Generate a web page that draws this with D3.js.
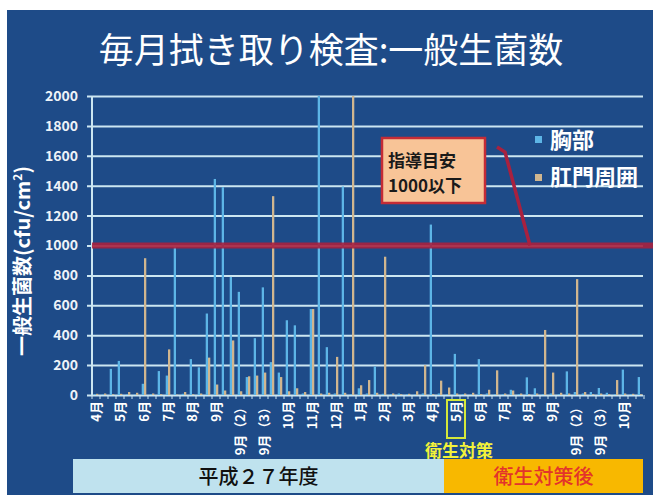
<!DOCTYPE html>
<html>
<head>
<meta charset="utf-8">
<script src="https://cdn.jsdelivr.net/npm/d3@7"></script>
<style>
  html, body { margin: 0; padding: 0; background: #ffffff; }
  svg { display: block; }
  text { font-family: "Noto Sans CJK JP", "Noto Sans", sans-serif; }
</style>
</head>
<body>
<svg id="chart" width="653" height="495"></svg>
<script>
// Monthly swab test: general bacteria count (cfu/cm²), three samples per session
const sessions = ["4月", "5月", "6月", "7月", "8月", "9月", "9月（2）", "9月（3）", "10月", "11月", "12月",
                  "1月", "2月", "3月", "4月", "5月", "6月", "7月", "8月", "9月", "9月（2）", "9月（3）", "10月"];
const samplesPerSession = 3;
const seriesNames = ["胸部", "肛門周囲"];

// 胸部 (chest)
const chest = [5, 3, 175, 228, 5, 3, 75, 5, 160, 130, 990, 8,
               240, 185, 545, 1445, 1390, 790, 690, 120, 380, 720, 220, 150,
               500, 466, 10, 575, 2000, 320, 10, 1395, 5, 45, 10, 190,
               8, 5, 10, 5, 3, 10, 1140, 10, 5, 275, 5, 3,
               240, 10, 5, 5, 35, 5, 118, 45, 5, 10, 5, 158,
               20, 10, 20, 47, 15, 5, 170, 5, 120];
// 肛門周囲 (perianal)
const anal = [8, 10, 5, 8, 20, 15, 915, 10, 5, 305, 3, 20,
              5, 10, 250, 70, 30, 365, 25, 125, 130, 150, 1330, 120,
              25, 45, 20, 575, 10, 15, 255, 15, 2000, 65, 100, 15,
              925, 10, 5, 8, 25, 200, 5, 96, 50, 10, 10, 15,
              5, 35, 165, 10, 30, 10, 5, 10, 435, 150, 15, 10,
              775, 20, 5, 10, 5, 100, 10, 8, 5];

const yTicks = [0, 200, 400, 600, 800, 1000, 1200, 1400, 1600, 1800, 2000];
const yMax = 2000;
const guideValue = 1000;
const guideText = ["指導目安", "1000以下"];
const periods = [
  { label: "平成２７年度", from: 0, to: 44 },
  { label: "衛生対策後", from: 44, to: 69 }
];
const measureSession = 15;          // session where hygiene measures began
const measureText = "衛生対策";

// ---------- layout ----------
const W = 653, H = 495;
const plot = { left: 92, right: 644, top: 96, bottom: 395 };
const colors = { bg: "#1e4b88", grid: "#cce6f1", chest: "#5db5e6", anal: "#d0b68f", guide: "#a8213f" };

const svg = d3.select("#chart");

svg.append("rect").attr("x", 7).attr("y", 10).attr("width", W - 7).attr("height", H - 10)
  .attr("fill", colors.bg);

// title
svg.append("text").attr("x", 331).attr("y", 63).attr("text-anchor", "middle")
  .attr("fill", "#ffffff").attr("font-size", 35).attr("font-weight", 400)
  .text("毎月拭き取り検査:一般生菌数");

// scales
const cats = d3.range(chest.length);
const x = d3.scaleBand().domain(cats).range([plot.left, plot.right]).paddingInner(0).paddingOuter(0);
const xs = d3.scaleBand().domain(seriesNames).range([0, x.bandwidth()]).paddingInner(0).paddingOuter(0.75);
const y = d3.scaleLinear().domain([0, yMax]).range([plot.bottom, plot.top]);

// gridlines + y tick labels
const yAxis = d3.axisLeft(y).tickValues(yTicks).tickFormat(d3.format("d"))
  .tickSize(-(plot.right - 1 - 87)).tickPadding(9);
const gy = svg.append("g").attr("transform", "translate(87,0)").call(yAxis);
gy.select(".domain").remove();
gy.selectAll(".tick line").attr("stroke", colors.grid).attr("stroke-width", 2);
gy.selectAll(".tick text").attr("fill", "#eef3f8").attr("font-size", 14).attr("font-weight", 700)
  .attr("font-family", "'Liberation Sans', Arial, sans-serif");

// y axis line
svg.append("line").attr("x1", plot.left).attr("x2", plot.left)
  .attr("y1", y(yMax)).attr("y2", y(0)).attr("stroke", colors.grid).attr("stroke-width", 2);

// category tick marks
svg.append("g").selectAll("line").data(d3.range(chest.length + 1)).join("line")
  .attr("x1", i => plot.left + i * x.step()).attr("x2", i => plot.left + i * x.step())
  .attr("y1", y(0)).attr("y2", y(0) + 4)
  .attr("stroke", colors.grid).attr("stroke-width", 1);

// bars
const barG = svg.append("g");
[chest, anal].forEach((series, s) => {
  barG.append("g").selectAll("rect").data(cats).join("rect")
    .attr("x", i => x(i) + xs(seriesNames[s]))
    .attr("y", i => y(series[i]))
    .attr("width", xs.bandwidth())
    .attr("height", i => y(0) - y(series[i]))
    .attr("fill", s === 0 ? colors.chest : colors.anal);
});

// guide line at 1000
svg.append("line").attr("x1", plot.left).attr("x2", W)
  .attr("y1", y(guideValue)).attr("y2", y(guideValue))
  .attr("stroke", colors.guide).attr("stroke-width", 6).attr("opacity", 0.9);

// callout
svg.append("path")
  .attr("d", d3.line()([[497, 147], [505, 152], [530, y(guideValue)]]))
  .attr("fill", "none").attr("stroke", colors.guide).attr("stroke-width", 3.5);
svg.append("rect").attr("x", 382).attr("y", 138).attr("width", 103).attr("height", 65)
  .attr("fill", "#f8c497").attr("stroke", "#c42c36").attr("stroke-width", 2.5);
guideText.forEach((t, k) => {
  svg.append("text").attr("x", 388).attr("y", 167 + k * 25)
    .attr("fill", "#1a1a1a").attr("font-size", 17).attr("font-weight", 700).text(t);
});

// legend
const legend = svg.append("g");
seriesNames.forEach((name, k) => {
  legend.append("rect").attr("x", 535).attr("y", 136 + k * 38).attr("width", 7).attr("height", 7)
    .attr("fill", k === 0 ? colors.chest : colors.anal);
  legend.append("text").attr("x", 550).attr("y", 148 + k * 37)
    .attr("fill", "#ffffff").attr("font-size", 22).attr("font-weight", 700).text(name);
});

// y axis title
const yt = svg.append("text").attr("transform", "translate(30,261) rotate(-90)")
  .attr("text-anchor", "middle").attr("fill", "#ffffff").attr("font-size", 20).attr("font-weight", 700);
yt.append("tspan").text("一般生菌数(cfu/cm");
yt.append("tspan").attr("font-size", 12).attr("dy", -8).text("2");
yt.append("tspan").attr("dy", 8).text(")");

// session labels on the first sample of each session
const labelG = svg.append("g");
sessions.forEach((s, k) => {
  const cx = x(k * samplesPerSession) + x.bandwidth() / 2;
  labelG.append("text").attr("transform", `translate(${cx + 5},401) rotate(-90)`)
    .attr("text-anchor", "end").attr("fill", "#ffffff").attr("font-size", 13).attr("font-weight", 700)
    .text(s);
});

// marker for the session where hygiene measures started
const mx = x(measureSession * samplesPerSession) + x.bandwidth() / 2;
svg.append("rect").attr("x", mx - 9).attr("y", 400).attr("width", 18).attr("height", 38)
  .attr("fill", "none").attr("stroke", "#d4e83a").attr("stroke-width", 2);
svg.append("text").attr("x", mx + 3).attr("y", 457).attr("text-anchor", "middle")
  .attr("fill", "#f2f23a").attr("font-size", 17).attr("font-weight", 700).text(measureText);

// period bands
const bandFill = ["#bfe2ee", "#f8b800"];
const bandText = ["#111111", "#e3332b"];
periods.forEach((p, k) => {
  const x0 = k === 0 ? 73 : plot.left + p.from * x.step();
  const x1 = k === periods.length - 1 ? 643 : plot.left + p.to * x.step();
  svg.append("rect").attr("x", x0).attr("y", 459).attr("width", x1 - x0).attr("height", 34)
    .attr("fill", bandFill[k]);
  svg.append("text").attr("x", (x0 + x1) / 2).attr("y", 484).attr("text-anchor", "middle")
    .attr("fill", bandText[k]).attr("font-size", 20).attr("font-weight", 500).text(p.label);
});
</script>
</body>
</html>
